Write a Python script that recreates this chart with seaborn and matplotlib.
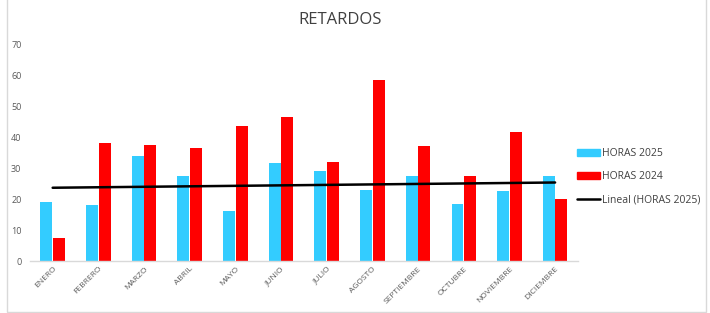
import matplotlib
matplotlib.use('Agg')
import matplotlib.pyplot as plt
import seaborn as sns
import pandas as pd
import numpy as np
from matplotlib.patches import Patch
from matplotlib.lines import Line2D

meses = ['ENERO', 'FEBRERO', 'MARZO', 'ABRIL', 'MAYO', 'JUNIO', 'JULIO',
         'AGOSTO', 'SEPTIEMBRE', 'OCTUBRE', 'NOVIEMBRE', 'DICIEMBRE']
horas_2025 = [19, 18, 34, 27.5, 16, 31.5, 29, 23, 27.5, 18.5, 22.5, 27.5]
horas_2024 = [7.5, 38, 37.5, 36.5, 43.5, 46.5, 32, 58.5, 37, 27.5, 41.5, 20]

df = pd.DataFrame({
    'mes': meses * 2,
    'horas': horas_2025 + horas_2024,
    'serie': ['HORAS 2025'] * 12 + ['HORAS 2024'] * 12,
})

sns.set_theme(style="white")
plt.rcParams['font.family'] = ['Open Sans', 'DejaVu Sans']

fig = plt.figure(figsize=(7.1, 3.13), dpi=100)
ax = fig.add_axes([0.042, 0.166, 0.772, 0.693])

palette = {'HORAS 2025': '#33CCFF', 'HORAS 2024': '#FF0000'}
sns.barplot(data=df, x='mes', y='horas', hue='serie', palette=palette,
            width=0.55, gap=0.05, saturation=1, linewidth=0, ax=ax, legend=False)

# linea de tendencia (lineal) de HORAS 2025
x = np.arange(len(meses))
m, b = np.polyfit(x, horas_2025, 1)
ax.plot(x, m * x + b, color='black', lw=1.8)

ax.set_xlim(-0.5, 11.5)
ax.set_ylim(0, 70)
ax.set_yticks(range(0, 71, 10))
ax.set_xlabel('')
ax.set_ylabel('')
ax.tick_params(axis='y', labelsize=6.5, labelcolor='#595959', length=0, pad=6)
ax.tick_params(axis='x', labelsize=6, labelcolor='#595959', length=0, pad=3)
plt.setp(ax.get_xticklabels(), rotation=45, ha='right', rotation_mode='anchor')
for s in ['top', 'right', 'left']:
    ax.spines[s].set_visible(False)
ax.spines['bottom'].set_color('#d9d9d9')
ax.spines['bottom'].set_linewidth(1)

fig.text(0.479, 0.935, 'RETARDOS', ha='center', va='center', fontsize=12, color='#404040')

handles = [Patch(color='#33CCFF'), Patch(color='#FF0000'), Line2D([0], [0], color='black', lw=1.8)]
labels = ['HORAS 2025', 'HORAS 2024', 'Lineal (HORAS 2025)']
fig.legend(handles, labels, loc='center left', bbox_to_anchor=(0.8, 0.435), frameon=False,
           fontsize=7.5, handlelength=2.2, handletextpad=0.2, labelspacing=1.15,
           labelcolor='#404040')

fig.patches.append(plt.Rectangle((0.01, 0.004), 0.985, 1.1, transform=fig.transFigure,
                                 fill=False, edgecolor='#d9d9d9', lw=1))

fig.savefig('out.png', dpi=100)
